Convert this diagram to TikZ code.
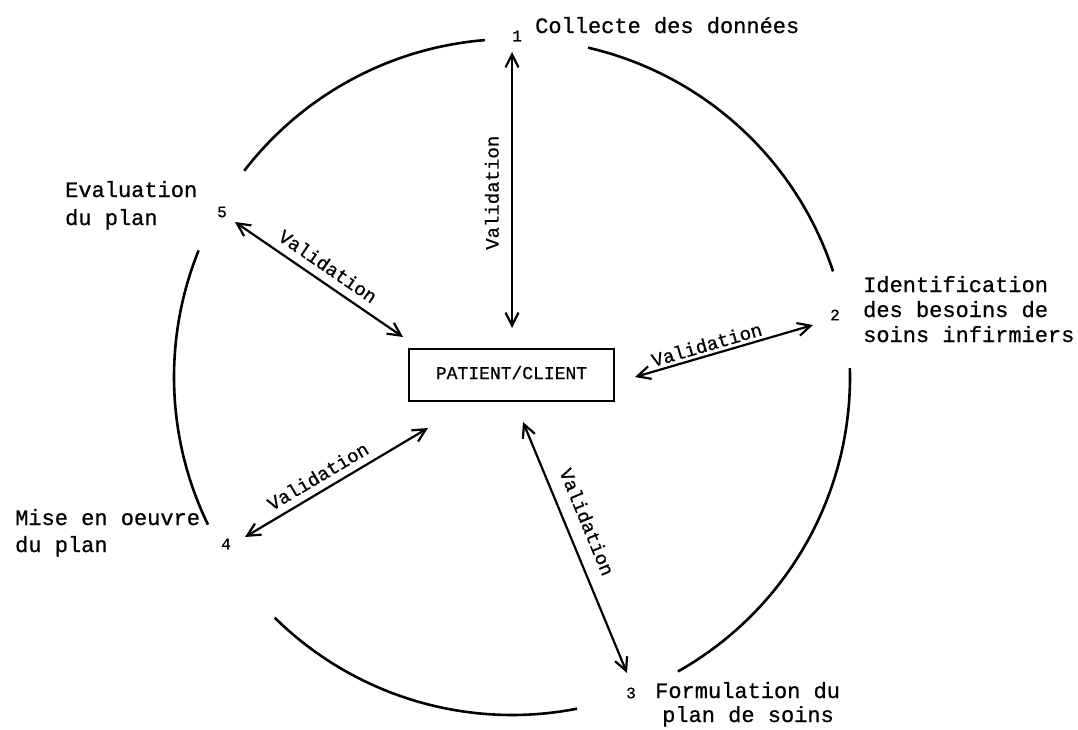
\documentclass[tikz,border=0pt]{standalone}
\usepackage{fontspec}
\setmainfont{Liberation Mono}[FakeBold=0.7]
\usetikzlibrary{arrows.meta}
\begin{document}
\begin{tikzpicture}[x=1pt,y=-1pt,
  ring/.style={line width=2.6pt},
  varrow/.style={line width=2.2pt,
    {Straight Barb[length=13pt,width=13pt]}-{Straight Barb[length=13pt,width=13pt]}},
  lab/.style={font=\fontsize{22}{26}\selectfont, inner sep=0pt, anchor=base west},
  num/.style={font=\fontsize{16}{16}\selectfont, inner sep=0pt},
  val/.style={font=\fontsize{19}{19}\selectfont, sloped, anchor=south, inner xsep=0pt},
]
\useasboundingbox (0,0) rectangle (1078,729);

% circle segments
\draw[ring] plot[smooth, domain=-142.4:-94.6, samples=40] ({512+338*cos(\x)},{377+338*sin(\x)});
\draw[ring] plot[smooth, domain=-77:-18.2, samples=40] ({512+338*cos(\x)},{377+338*sin(\x)});
\draw[ring] plot[smooth, domain=-1.5:60.6, samples=40] ({512+338*cos(\x)},{377+338*sin(\x)});
\draw[ring] plot[smooth, domain=78.9:134.6, samples=40] ({512+338*cos(\x)},{377+338*sin(\x)});
\draw[ring] plot[smooth, domain=154.1:202, samples=40] ({512+338*cos(\x)},{377+338*sin(\x)});

% centre box
\node[draw, line width=2.8pt, minimum width=205pt, minimum height=52pt, inner sep=0pt,
  font=\fontsize{18}{18}\selectfont] (box) at (511.5,375)
  {\raisebox{5pt}{PATIENT/CLIENT}\hspace{20pt}};

% numbers
\node[num] (n1) at (517,36) {1};
\node[num] (n2) at (835,315) {2};
\node[num] (n3) at (631,693) {3};
\node[num] (n4) at (226,544) {4};
\node[num] (n5) at (222,212) {5};

% step labels
\node[lab] (l1) at (535,33) {Collecte des données};
\node[lab] (l2a) at (863,292) {Identification};
\node[lab] (l2b) at (863,317) {des besoins de};
\node[lab] (l2c) at (863,342) {soins infirmiers};
\node[lab] (l3a) at (655,698) {Formulation du};
\node[lab] (l3b) at (662,722) {plan de soins};
\node[lab] (l5a) at (65,197) {Evaluation};
\node[lab] (l5b) at (65,225) {du plan};
\node[lab] (l4a) at (15,525) {Mise en oeuvre};
\node[lab] (l4b) at (15,552) {du plan};

% arrow ends
\coordinate (a1) at (512,52);   \coordinate (c1) at (512,328);
\coordinate (a2) at (813,325);  \coordinate (c2) at (635,377);
\coordinate (a3) at (627,673);  \coordinate (c3) at (523,422);
\coordinate (a4) at (245,537);  \coordinate (c4) at (428,428);
\coordinate (a5) at (235,222);  \coordinate (c5) at (403,337);

\draw[varrow] (c1) -- node[val, pos=0.49, inner ysep=12pt] {Validation} (a1);
\draw[varrow] (c2) -- node[val, pos=0.42, inner ysep=3pt] {Validation} (a2);
\draw[varrow] (c3) -- node[val, pos=0.43, inner ysep=13pt] {Validation} (a3);
\draw[varrow] (a4) -- node[val, pos=0.44, inner ysep=7pt] {Validation} (c4);
\draw[varrow] (a5) -- node[val, pos=0.5, inner ysep=8pt] {Validation} (c5);
\end{tikzpicture}
\end{document}
